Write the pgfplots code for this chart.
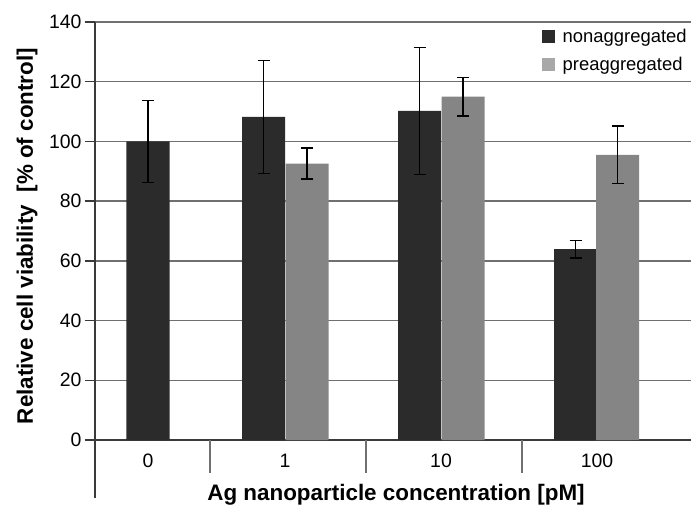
\documentclass[border=0pt]{standalone}
\usepackage{pgfplots}
\pgfplotsset{compat=1.18}
\usepackage{fontspec}
\setmainfont{Liberation Sans}
\definecolor{darkbar}{HTML}{2B2B2B}
\definecolor{lightbar}{HTML}{858585}
\definecolor{lightkey}{HTML}{A8A8A8}
\definecolor{gridc}{HTML}{707070}
\definecolor{axisc}{HTML}{3A3A3A}

\begin{document}
\begin{tikzpicture}
\begin{axis}[
  name=ax,
  scale only axis,
  width=596bp, height=418bp,
  xmin=95, xmax=691, ymin=0, ymax=140,
  clip=false,
  axis line style={draw=none},
  ytick={0,20,...,140},
  ymajorgrids,
  grid style={gridc, line width=1.5bp},
  ytick style={axisc, line width=1.5bp},
  tick align=outside, major tick length=10bp,
  xtick={148,285,441,597}, xticklabels={0,1,10,100},
  xtick style={draw=none},
  xticklabel style={anchor=base, yshift=-17bp},
  tick label style={font=\fontsize{19.5}{22}\selectfont},
  /pgf/number format/assume math mode=true,
  legend style={at={(axis cs:539,138.8)}, anchor=north west, draw=none, fill=none,
    font=\fontsize{18.5}{21}\selectfont, row sep=10bp,
    nodes={inner sep=1.5bp}, legend cell align=left,
    /tikz/every odd column/.append style={column sep=6bp}},
  legend image code/.code={\fill[draw=none, #1] (0bp,-6.5bp) rectangle (13bp,6.5bp);},
]
% separators and axis lines
\draw[axisc, line width=1.5bp] (axis cs:85,0) -- (axis cs:691,0);
\draw[axisc, line width=1.5bp] (axis cs:95,140) -- (axis cs:95,-19.4);
\draw[gridc, line width=1.5bp] (axis cs:210,0) -- (axis cs:210,-11.05)
  (axis cs:366,0) -- (axis cs:366,-11.05)
  (axis cs:522,0) -- (axis cs:522,-11.05);

\addlegendimage{fill=darkbar, draw=none}
\addlegendentry{nonaggregated}
\addlegendimage{fill=lightkey, draw=none}
\addlegendentry{preaggregated}

% nonaggregated
\addplot[forget plot, ybar, bar width=43, bar shift=0, fill=darkbar, draw=none,
  error bars/.cd, y dir=both, y explicit,
  error bar style={black, line width=1.4bp},
  error mark options={rotate=90, mark size=6bp, line width=1.4bp, black}]
  coordinates {
    (148,100.0) +- (0,13.7)
    (263.5,108.2) +- (0,19.0)
    (419.5,110.2) +- (0,21.3)
    (575.5,63.9) +- (0,3.0)
  };
% preaggregated
\addplot[forget plot, ybar, bar width=43, bar shift=0, fill=lightbar, draw=none,
  error bars/.cd, y dir=both, y explicit,
  error bar style={black, line width=1.4bp},
  error mark options={rotate=90, mark size=6bp, line width=1.4bp, black}]
  coordinates {
    (307,92.6) +- (0,5.2)
    (463,115.0) +- (0,6.5)
    (617.5,95.5) +- (0,9.6)
  };

\node[rotate=90, anchor=base, font=\fontsize{22.5}{26}\selectfont\bfseries]
  at (axis cs:33,68.3) {Relative cell viability\ \ [\% of control]};
\node[anchor=base, font=\fontsize{22.5}{26}\selectfont\bfseries]
  at (axis cs:396,-20.4) {Ag nanoparticle concentration [pM]};
\end{axis}
\pgfresetboundingbox
\path ([xshift=-95bp,yshift=-69bp]ax.south west) rectangle ([yshift=22bp]ax.north east);
\end{tikzpicture}
\end{document}
